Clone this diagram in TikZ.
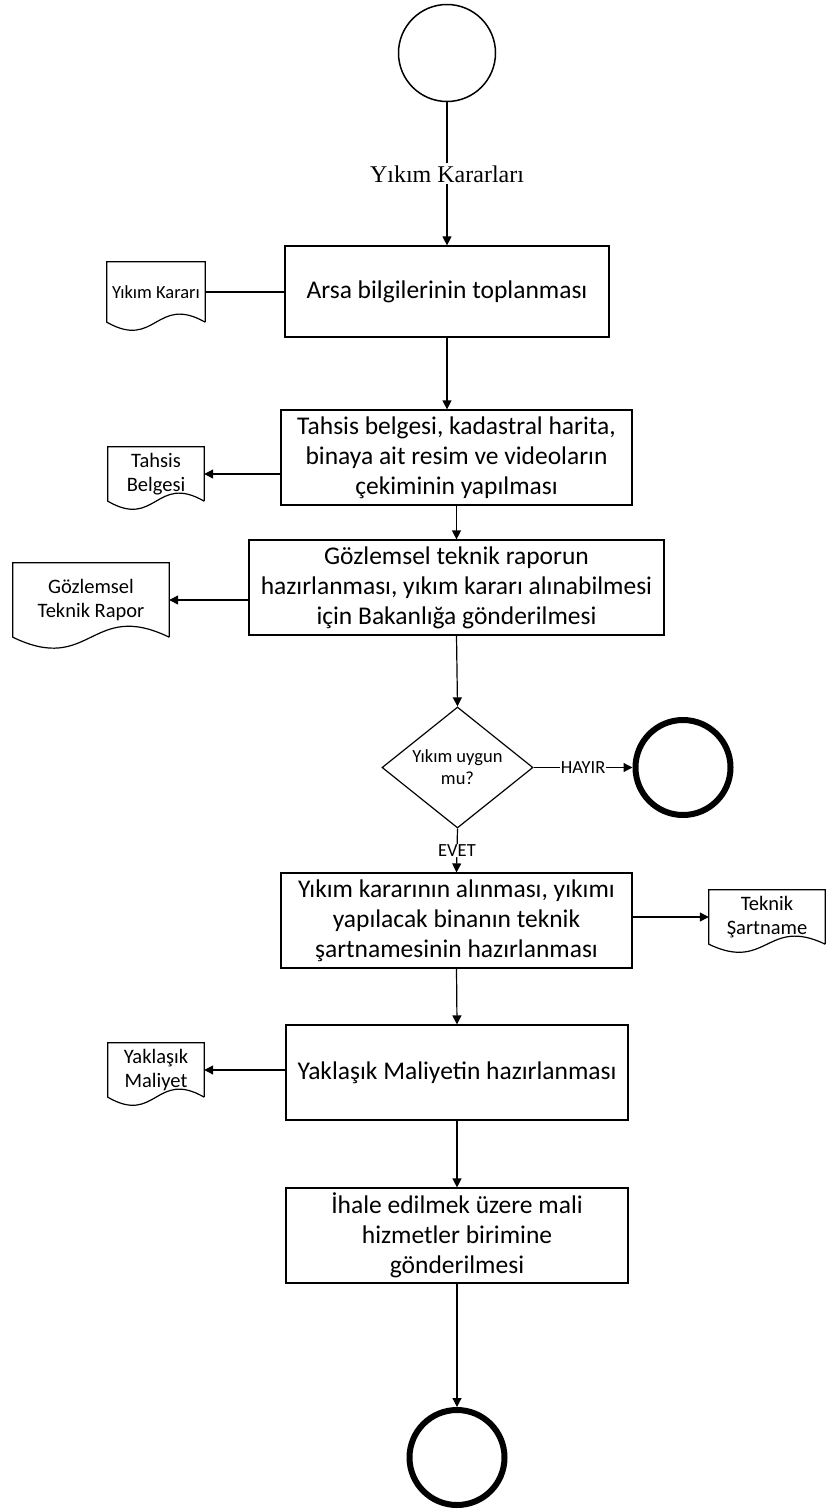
\documentclass[tikz,border=0pt]{standalone}
\usepackage{fontspec}
\setmainfont{Carlito}
\newfontfamily\serifcap{Liberation Serif}
\usetikzlibrary{calc,arrows.meta,shapes.geometric}
\def\bigtext{\fontsize{25.5}{30}\selectfont}
\def\midtext{\fontsize{20.5}{24.5}\selectfont}
\def\smalltext{\fontsize{18.5}{22}\selectfont}
\def\docwave[#1](#2)(#3){\draw[#1] (#2.south east) -- (#2.north east) -- (#2.north west) -- (#2.south west) .. controls ($(#2.south)+(0pt,-#3pt)$) and ($(#2.south)+(0pt,#3pt)$) .. (#2.south east);}
\tikzset{
	procbox/.style={draw, line width=1.2pt, align=center, minimum height=95pt, inner sep=0pt, font=\bigtext},
	docbox/.style={align=center, inner sep=0pt, font=\midtext},
	flow/.style={line width=1.2pt, -{Triangle[length=9pt,width=9pt]}},
	link/.style={line width=1.2pt},
	endcirc/.style={circle, draw, line width=6pt, minimum size=95pt, inner sep=0pt},
	edgetext/.style={fill=white, inner sep=1pt, font=\smalltext}
}

\begin{document}
\begin{tikzpicture}[x=1pt,y=-1pt]
		%%%%% START %%%%%
		\useasboundingbox (0,0) rectangle (826,1510);
		
		\node[circle, draw, line width=1.5pt, minimum size=97pt, inner sep=0pt] (start) at (447,53) {};
		
		\node[procbox, minimum width=324pt, minimum height=91pt] (box1) at (447,291.5) {Arsa bilgilerinin toplanması};
		\node[procbox, minimum width=351pt] (box2) at (456.5,457.5) {Tahsis belgesi, kadastral harita,\\binaya ait resim ve videoların\\çekiminin yapılması};
		\node[procbox, minimum width=415pt] (box3) at (456.5,587.5) {Gözlemsel teknik raporun\\hazırlanması, yıkım kararı alınabilmesi\\için Bakanlığa gönderilmesi};
		
		\node[diamond, aspect=1.25, draw, line width=1.2pt, minimum width=151pt, minimum height=121pt, inner sep=0pt, align=center, font=\smalltext] (check) at (457.5,767.5) {Yıkım uygun\\mu?};
		\node[endcirc] (stopno) at (683,767.5) {};
		
		\node[procbox, minimum width=351pt] (box4) at (456.5,920.5) {Yıkım kararının alınması, yıkımı\\yapılacak binanın teknik\\şartnamesinin hazırlanması};
		\node[procbox, minimum width=342pt] (box5) at (457,1072.5) {Yaklaşık Maliyetin hazırlanması};
		\node[procbox, minimum width=342pt] (box6) at (457,1235.5) {İhale edilmek üzere mali\\hizmetler birimine\\gönderilmesi};
		\node[endcirc] (stopyes) at (457,1457.5) {};
		
		% documents
		\node[docbox, minimum width=98pt, minimum height=60pt, font=\smalltext] (doc1) at (156,292) {Yıkım Kararı};
		\node[docbox, minimum width=96pt, minimum height=54pt] (doc2) at (156,474) {Tahsis\\Belgesi};
		\node[docbox, minimum width=156pt, minimum height=74pt] (doc3) at (91,600) {Gözlemsel\\Teknik Rapor};
		\node[docbox, minimum width=116pt, minimum height=54pt] (doc4) at (767,917) {Teknik\\Şartname};
		\node[docbox, minimum width=96pt, minimum height=54pt] (doc5) at (156,1070) {Yaklaşık\\Maliyet};
		\docwave[link](doc1)(28)
		\docwave[link](doc2)(28)
		\docwave[link](doc3)(38)
		\docwave[link](doc4)(28)
		\docwave[link](doc5)(28)
		
		% connectors
		\draw[flow] (start) -- node[fill=white, inner sep=2pt, font={\serifcap\fontsize{24}{28}\selectfont}] (lbl) {Yıkım Kararları} (box1);
		\draw[link] (doc1.east -| box1.west) -- (doc1.east);
		\draw[flow] (box1.south) -- (box1.south |- box2.north);
		\draw[flow] (box2.west |- doc2.east) -- (doc2.east);
		\draw[flow] (box2.south) -- (box3.north);
		\draw[flow] (box3.west |- doc3.east) -- (doc3.east);
		\draw[flow] (box3.south) -- (check.north);
		\draw[flow] (check.east) -- node[edgetext] (no) {HAYIR} (stopno);
		\draw[flow] (check.south) -- node[edgetext] (yes) {EVET} (box4.north);
		\draw[flow] (box4.east |- doc4.west) -- (doc4.west);
		\draw[flow] (box4.south) -- (box5.north);
		\draw[flow] (box5.west |- doc5.east) -- (doc5.east);
		\draw[flow] (box5.south) -- (box6.north);
		\draw[flow] (box6.south) -- (stopyes.north);
		
		%%%%% END %%%%%
	\end{tikzpicture}
\end{document}
